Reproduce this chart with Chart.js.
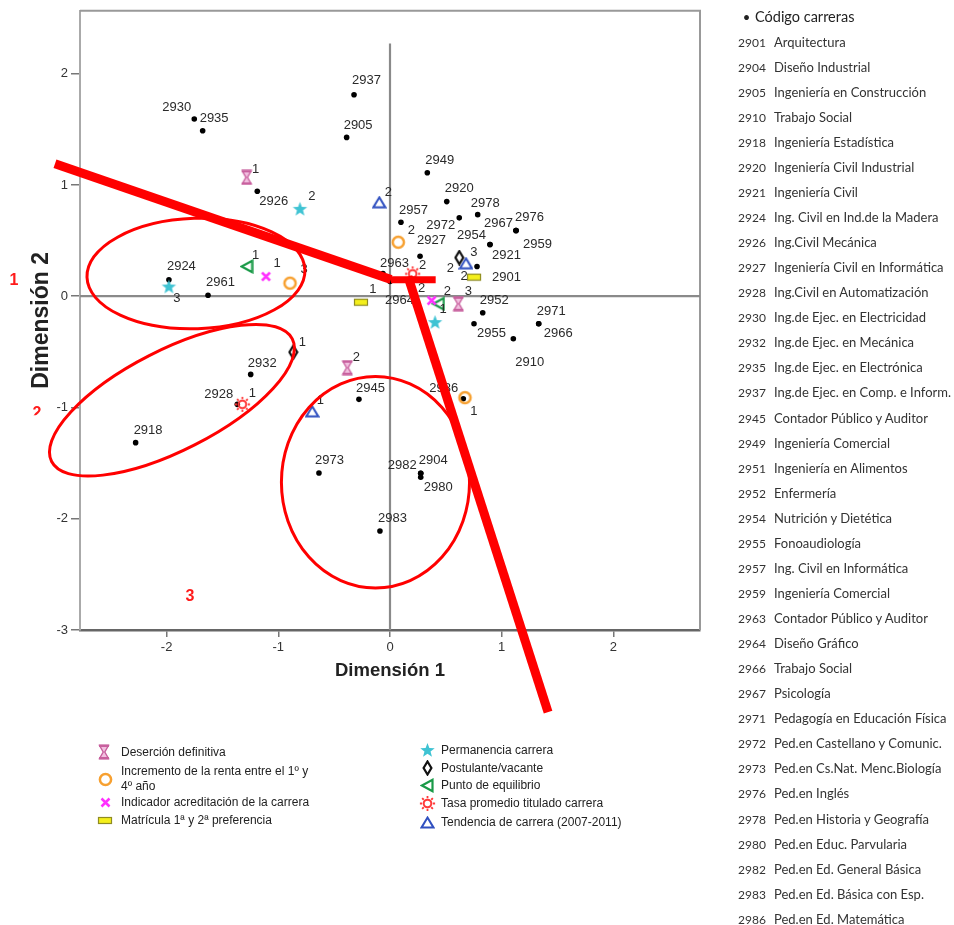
<!DOCTYPE html>
<html><head><meta charset="utf-8">
<script src="https://cdn.jsdelivr.net/npm/chart.js@4.4.1/dist/chart.umd.min.js"></script>
<style>
html,body{margin:0;padding:0;background:#fff;}
#wrap{position:relative;width:954px;height:925px;overflow:hidden;background:#fff;}
#c{position:absolute;left:0;top:0;}
#codes{position:absolute;left:738px;top:3.5px;font:13px Lato,sans-serif;line-height:25.06px;color:#333;white-space:nowrap;}
#codes .n{display:inline-block;width:36px;font-size:12px;}
#codes .h{font-size:14.5px;color:#222;}
#codes .b{display:inline-block;width:17px;text-align:center;font-size:13px;}
.leg{position:absolute;font:12px "Liberation Sans",Arial,sans-serif;color:#222;white-space:nowrap;line-height:15px;}
.mk{position:absolute;}
</style></head>
<body>
<div id="wrap"><canvas id="c" width="954" height="925"></canvas><div id="codes"></div></div>
<script>
// ---------------- DATA ----------------
const careerCodes = ['2901','2904','2905','2910','2918','2920','2921','2924','2926','2927','2928','2930','2932','2935','2937','2945','2949','2961','2952','2954','2955','2957','2959','2963','2964','2966','2967','2971','2972','2973','2976','2978','2980','2982','2983','2986'];
const careerX = [0.779,0.275,-0.388,1.104,-2.277,0.508,0.895,-1.979,-1.188,0.269,-1.367,-1.752,-1.247,-1.677,-0.322,-0.278,0.334,-1.629,0.830,0.895,0.752,0.098,1.128,-0.063,0.000,1.331,1.128,1.331,0.620,-0.636,1.128,0.785,0.275,0.275,-0.090,0.656];
const careerY = [0.267,-1.592,1.427,-0.382,-1.316,0.850,0.464,0.147,0.943,0.359,-0.972,1.592,-0.703,1.487,1.811,-0.927,1.110,0.009,-0.149,0.464,-0.248,0.664,0.590,0.204,0.132,-0.248,0.590,-0.248,0.704,-1.589,0.590,0.733,-1.627,-1.592,-2.110,-0.921];

const desercionCats = ['1','2','3'];
const desercionX = [-1.283,-0.382,0.612];
const desercionY = [1.068,-0.643,-0.068];
const incrementoCats = ['1','2','3'];
const incrementoX = [0.671,0.074,-0.895];
const incrementoY = [-0.912,0.485,0.117];
const acreditacionCats = ['1','2'];
const acreditacionX = [-1.110,0.373];
const acreditacionY = [0.177,-0.039];
const matriculaCats = ['1','2'];
const matriculaX = [-0.260,0.752];
const matriculaY = [-0.054,0.171];
const permanenciaCats = ['1','2','3'];
const permanenciaX = [0.403,-0.806,-1.979];
const permanenciaY = [-0.233,0.785,0.087];
const postulanteCats = ['1','2'];
const postulanteX = [-0.866,0.620];
const postulanteY = [-0.503,0.347];
const equilibrioCats = ['1','2'];
const equilibrioX = [-1.283,0.432];
const equilibrioY = [0.267,-0.068];
const tasaCats = ['1','2'];
const tasaX = [-1.322,0.203];
const tasaY = [-0.972,0.201];
const tendenciaCats = ['1','2','3'];
const tendenciaX = [-0.696,-0.096,0.680];
const tendenciaY = [-1.035,0.844,0.296];

const seriesNames = ['Deserción definitiva','Incremento de la renta entre el 1º y\n4º año','Indicador acreditación de la carrera','Matrícula 1ª y 2ª preferencia','Permanencia carrera','Postulante/vacante','Punto de equilibrio','Tasa promedio titulado carrera','Tendencia de carrera (2007-2011)'];

const listCodes = ['2901','2904','2905','2910','2918','2920','2921','2924','2926','2927','2928','2930','2932','2935','2937','2945','2949','2951','2952','2954','2955','2957','2959','2963','2964','2966','2967','2971','2972','2973','2976','2978','2980','2982','2983','2986'];
const listNames = ['Arquitectura','Diseño Industrial','Ingeniería en Construcción','Trabajo Social','Ingeniería Estadística','Ingeniería Civil Industrial','Ingeniería Civil','Ing. Civil en Ind.de la Madera','Ing.Civil Mecánica','Ingeniería Civil en Informática','Ing.Civil en Automatización','Ing.de Ejec. en Electricidad','Ing.de Ejec. en Mecánica','Ing.de Ejec. en Electrónica','Ing.de Ejec. en Comp. e Inform.','Contador Público y Auditor','Ingeniería Comercial','Ingeniería en Alimentos','Enfermería','Nutrición y Dietética','Fonoaudiología','Ing. Civil en Informática','Ingeniería Comercial','Contador Público y Auditor','Diseño Gráfico','Trabajo Social','Psicología','Pedagogía en Educación Física','Ped.en Castellano y Comunic.','Ped.en Cs.Nat. Menc.Biología','Ped.en Inglés','Ped.en Historia y Geografía','Ped.en Educ. Parvularia','Ped.en Ed. General Básica','Ped.en Ed. Básica con Esp.','Ped.en Ed. Matemática'];

const xTickLabels = ['-2','-1','0','1','2'];
const yTickLabels = ['-3','-2','-1','0','1','2'];

// ---------------- STYLE (label offsets in px, marker shapes) ----------------
const careerLabelOffsets = [[15,11,'l'],[-2,-13,'l'],[-3,-12,'l'],[2,24,'l'],[-2,-12,'l'],[-2,-13,'l'],[2,11,'l'],[-2,-13,'l'],[2,10,'l'],[-3,-16,'l'],[-4,-10,'r'],[-3,-12,'r'],[-3,-11,'l'],[-3,-12,'l'],[-2,-14,'l'],[-3,-11,'l'],[-2,-12,'l'],[-2,-13,'l'],[-3,-12,'l'],[-4,-9,'r'],[3,10,'l'],[-2,-12,'l'],[7,14,'l'],[-3,-10,'l'],[-5,19,'l'],[5,10,'l'],[-3,-7,'r'],[-2,-12,'l'],[-4,8,'r'],[-4,-13,'l'],[-1,-13,'l'],[-7,-11,'l'],[3,10,'l'],[-4,-8,'r'],[-2,-13,'l'],[-5,-10,'r']];
const catLabelOffsets = {
  desercion:[[9,-8],[9,-10],[10,-12]],
  incremento:[[9,14],[13,-12],[14,-14]],
  acreditacion:[[11,-13],[-10,-12]],
  matricula:[[12,-13],[-10,-1]],
  permanencia:[[8,-13],[12,-12],[8,12]],
  postulante:[[9,-10],[-9,11]],
  equilibrio:[[9,-11],[9,-12]],
  tasa:[[10,-11],[10,-8]],
  tendencia:[[8,-11],[9,-10],[8,-11]]
};
const markerTypes = ['hourglass','ring','cross','rect','star','diamond','triLeft','gear','triUp'];
const legendSlots = [[104,752,121],[105,779,121],[105,802,121],[105,820,121],[427,750,441],[427,768,441],[427,785,441],[427,803,441],[427,822,441]];

function markerCanvas(type){
  const specs={hourglass:[12,16],ring:[17,17],cross:[13,13],rect:[16,9],star:[17,16],diamond:[11,16],triLeft:[14,15],gear:[17,17],triUp:[15,13]};
  const [w,h]=specs[type];
  const cv=document.createElement('canvas'); cv.width=w; cv.height=h;
  const g=cv.getContext('2d');
  g.lineJoin='miter';
  if(type==='hourglass'){
    g.fillStyle='#f2c0e0'; g.strokeStyle='#c8609e'; g.lineWidth=1.4;
    g.beginPath(); g.moveTo(1.5,1.5); g.lineTo(10.5,1.5); g.lineTo(6.8,8); g.lineTo(10.5,14.5); g.lineTo(1.5,14.5); g.lineTo(5.2,8); g.closePath(); g.fill(); g.stroke();
    g.lineWidth=2.4; g.beginPath(); g.moveTo(1,1.8); g.lineTo(11,1.8); g.moveTo(1,14.2); g.lineTo(11,14.2); g.stroke();
  } else if(type==='ring'){
    g.strokeStyle='#f7a030'; g.lineWidth=2.5; g.beginPath(); g.arc(8.5,8.5,5.6,0,Math.PI*2); g.stroke();
  } else if(type==='cross'){
    g.strokeStyle='#ff30ff'; g.lineWidth=2.5; g.beginPath(); g.moveTo(2.5,2.5); g.lineTo(10.5,10.5); g.moveTo(10.5,2.5); g.lineTo(2.5,10.5); g.stroke();
  } else if(type==='rect'){
    g.fillStyle='#f4ef1c'; g.fillRect(1,1,14,7); g.strokeStyle='#8f8c22'; g.lineWidth=1.2; g.strokeRect(1.5,1.5,13,6);
  } else if(type==='star'){
    g.fillStyle='#3fc3d3'; g.beginPath();
    for(let k=0;k<10;k++){const r=k%2?3.2:7.6; const a=-Math.PI/2+k*Math.PI/5; const px=8.5+r*Math.cos(a), py=8.6+r*Math.sin(a); k?g.lineTo(px,py):g.moveTo(px,py);} g.closePath(); g.fill();
  } else if(type==='diamond'){
    g.strokeStyle='#111'; g.lineWidth=2.2; g.beginPath(); g.moveTo(5.5,1.5); g.lineTo(9.4,8); g.lineTo(5.5,14.5); g.lineTo(1.6,8); g.closePath(); g.stroke();
  } else if(type==='triLeft'){
    g.strokeStyle='#1a9a48'; g.lineWidth=2.2; g.beginPath(); g.moveTo(2,7.5); g.lineTo(12.5,1.8); g.lineTo(12.5,13.2); g.closePath(); g.stroke();
  } else if(type==='gear'){
    g.strokeStyle='#ff3a3a'; g.lineWidth=2; g.beginPath(); g.arc(8.5,8.5,3.8,0,Math.PI*2); g.stroke();
    g.lineWidth=1.8; g.beginPath();
    for(let k=0;k<8;k++){const a=k*Math.PI/4; g.moveTo(8.5+5.3*Math.cos(a),8.5+5.3*Math.sin(a)); g.lineTo(8.5+7.6*Math.cos(a),8.5+7.6*Math.sin(a));} g.stroke();
  } else if(type==='triUp'){
    g.strokeStyle='#3050c0'; g.lineWidth=2; g.beginPath(); g.moveTo(7.5,1.6); g.lineTo(13.4,11.4); g.lineTo(1.6,11.4); g.closePath(); g.stroke();
  }
  return cv;
}

// ---------------- ANNOTATIONS (data units) ----------------
const annoLines = [
  {from:[-2.999,1.191], to:[0.009,0.150], w:9},
  {from:[0.009,0.147], to:[0.409,0.147], w:7},
  {from:[0.161,0.176], to:[1.415,-3.737], w:9}
];
const annoEllipses = [
  {c:[-1.737,0.204], rx:0.976, ry:0.494, rot:-2},
  {c:[-1.952,-0.935], rx:1.209, ry:0.448, rot:-27},
  {c:[-0.130,-1.672], rx:0.842, ry:0.951, rot:0}
];
const annoNumbers = [
  {t:'1', at:[-3.366,0.141], clipBelow:null},
  {t:'2', at:[-3.160,-1.057], clipBelow:-1.070},
  {t:'3', at:[-1.790,-2.703], clipBelow:-2.740}
];

// ---------------- CHART ----------------
Chart.defaults.font.family = '"Liberation Sans", Arial, sans-serif';
const pts = (xs,ys)=>xs.map((x,i)=>({x:x,y:ys[i]}));
const catSets = [
  ['desercion',desercionX,desercionY,desercionCats],
  ['incremento',incrementoX,incrementoY,incrementoCats],
  ['acreditacion',acreditacionX,acreditacionY,acreditacionCats],
  ['matricula',matriculaX,matriculaY,matriculaCats],
  ['permanencia',permanenciaX,permanenciaY,permanenciaCats],
  ['postulante',postulanteX,postulanteY,postulanteCats],
  ['equilibrio',equilibrioX,equilibrioY,equilibrioCats],
  ['tasa',tasaX,tasaY,tasaCats],
  ['tendencia',tendenciaX,tendenciaY,tendenciaCats]
];
const X_MIN=-2.775, X_MAX=2.775, Y_MIN=-3, Y_MAX=2.565;
const datasets = [
  {label:'ref-h', data:[{x:X_MIN,y:0},{x:X_MAX,y:0}], showLine:true, pointRadius:0, borderColor:'#8a8a8a', borderWidth:2.2, order:100},
  {label:'ref-v', data:[{x:0,y:2.27},{x:0,y:Y_MIN}], showLine:true, pointRadius:0, borderColor:'#8a8a8a', borderWidth:2.2, order:100},
  {label:'Código carreras', data:pts(careerX,careerY), pointStyle:'circle', pointRadius:2.8, backgroundColor:'#000', borderColor:'#000', borderWidth:0, pointLabels:careerCodes, labelOffsets:careerLabelOffsets, order:20}
];
catSets.forEach((s,i)=>{
  datasets.push({label:seriesNames[i], data:pts(s[1],s[2]), pointStyle:markerCanvas(markerTypes[i]), pointRadius:6, pointLabels:s[3], labelOffsets:catLabelOffsets[s[0]].map(o=>[o[0],o[1],'c']), order:10});
});

const framePlugin = {id:'frame', beforeDatasetsDraw(chart){
  const {ctx, chartArea:a} = chart; ctx.save(); ctx.strokeStyle='#999'; ctx.lineWidth=2;
  ctx.beginPath(); ctx.moveTo(a.left,a.top); ctx.lineTo(a.right,a.top); ctx.lineTo(a.right,a.bottom); ctx.stroke(); ctx.restore();
}};
const labelPlugin = {id:'ptlabels', afterDatasetsDraw(chart){
  const ctx=chart.ctx;
  chart.data.datasets.forEach((ds,i)=>{
    if(!ds.pointLabels) return;
    const meta=chart.getDatasetMeta(i);
    ctx.save(); ctx.font='13px "Liberation Sans", Arial, sans-serif'; ctx.fillStyle='#2a2a2a'; ctx.textBaseline='middle';
    meta.data.forEach((el,j)=>{
      const o=ds.labelOffsets[j];
      ctx.textAlign = o[2]==='l'?'left':(o[2]==='r'?'right':'center');
      ctx.fillText(ds.pointLabels[j], el.x+o[0], el.y+o[1]);
    });
    ctx.restore();
  });
}};
const annoPlugin = {id:'anno', afterDraw(chart){
  const {ctx, scales:{x,y}} = chart;
  const px=v=>x.getPixelForValue(v), py=v=>y.getPixelForValue(v);
  const ux=px(1)-px(0), uy=py(0)-py(1);
  ctx.save(); ctx.strokeStyle='#ff0000'; ctx.fillStyle='#ff1a1a';
  annoEllipses.forEach(e=>{ctx.lineWidth=3; ctx.beginPath(); ctx.ellipse(px(e.c[0]),py(e.c[1]),e.rx*ux,e.ry*(e.rot?ux:uy),e.rot*Math.PI/180,0,Math.PI*2); ctx.stroke();});
  annoLines.forEach(l=>{ctx.lineWidth=l.w; ctx.lineCap='butt'; ctx.beginPath(); ctx.moveTo(px(l.from[0]),py(l.from[1])); ctx.lineTo(px(l.to[0]),py(l.to[1])); ctx.stroke();});
  ctx.font='bold 16px "Liberation Sans", Arial, sans-serif'; ctx.textAlign='center'; ctx.textBaseline='middle';
  annoNumbers.forEach(n=>{
    ctx.save();
    if(n.clipBelow!==null){ctx.beginPath(); ctx.rect(0,0,954,py(n.clipBelow)); ctx.clip();}
    ctx.fillText(n.t, px(n.at[0]), py(n.at[1]));
    ctx.restore();
  });
  ctx.restore();
}};

new Chart(document.getElementById('c'), {
  type:'scatter',
  data:{datasets:datasets},
  options:{
    responsive:false, animation:false, devicePixelRatio:1,
    layout:{padding:{left:28,top:10,right:254,bottom:243}},
    plugins:{legend:{display:false}, tooltip:{enabled:false}},
    scales:{
      x:{type:'linear', min:X_MIN, max:X_MAX, afterFit(s){s.height=52;},
        ticks:{stepSize:1, includeBounds:false, color:'#333', font:{size:13}, padding:3, maxRotation:0,
          callback:(v)=>xTickLabels[xTickLabels.indexOf(String(v))] ?? String(v)},
        grid:{display:true, drawOnChartArea:false, drawTicks:true, tickLength:7, color:'#777', lineWidth:1.5},
        border:{display:true, color:'#666', width:2.5},
        title:{display:true, text:'Dimensión 1', font:{size:18.5, weight:'bold'}, color:'#222', padding:0}},
      y:{type:'linear', min:Y_MIN, max:Y_MAX, afterFit(s){s.width=52;},
        ticks:{stepSize:1, includeBounds:false, color:'#333', font:{size:13}, padding:3,
          callback:(v)=>yTickLabels[yTickLabels.indexOf(String(v))] ?? String(v)},
        grid:{display:true, drawOnChartArea:false, drawTicks:true, tickLength:9, color:'#777', lineWidth:1.5},
        border:{display:true, color:'#aaa', width:2},
        title:{display:true, text:'Dimensión 2', font:{size:23, weight:'bold'}, color:'#222', padding:0}}
    }
  },
  plugins:[framePlugin, labelPlugin, annoPlugin]
});

// ---------------- LEGENDS (HTML) ----------------
const wrap=document.getElementById('wrap');
const codes=document.getElementById('codes');
let html='<div class="h"><span class="b">•</span>Código carreras</div>';
listCodes.forEach((c,i)=>{ html+='<div><span class="n">'+c+'</span>'+listNames[i]+'</div>'; });
codes.innerHTML=html;

seriesNames.forEach((name,i)=>{
  const [mx,my,tx]=legendSlots[i];
  const cv=markerCanvas(markerTypes[i]); cv.className='mk';
  cv.style.left=(mx-cv.width/2)+'px'; cv.style.top=(my-cv.height/2)+'px';
  wrap.appendChild(cv);
  const lines=name.split('\n');
  const d=document.createElement('div'); d.className='leg';
  d.style.left=tx+'px'; d.style.top=(my-lines.length*7.5)+'px';
  d.innerHTML=lines.join('<br>');
  wrap.appendChild(d);
});
</script>
</body></html>
